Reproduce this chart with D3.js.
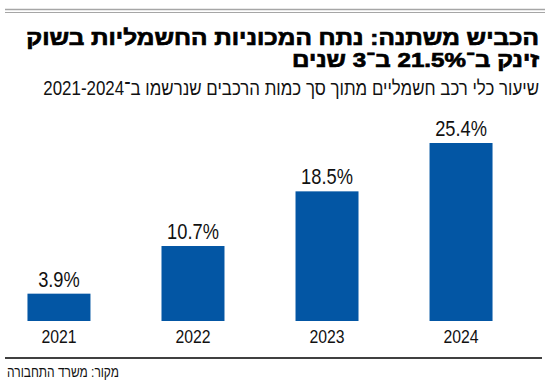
<!DOCTYPE html>
<html lang="he">
<head>
<meta charset="utf-8">
<script src="https://cdn.jsdelivr.net/npm/d3@7"></script>
<style>
  body { margin: 0; background: #fff; }
  svg { display: block; }
  .hebrew { font-family: "Liberation Sans", "DejaVu Sans", sans-serif; }
  .narrow { font-family: "Liberation Sans", "DejaVu Sans", sans-serif; }
</style>
</head>
<body>
<div id="chart"></div>
<script>
// datos
const years = ["2021", "2022", "2023", "2024"]
const shares = [3.9, 10.7, 18.5, 25.4]
const titleLines = ["הכביש משתנה: נתח המכוניות החשמליות בשוק", "זינק ב־21.5% ב־3 שנים"]
const subtitle = "שיעור כלי רכב חשמליים מתוך סך כמות הרכבים שנרשמו ב־2021-2024"
const source = "מקור: משרד התחבורה"

const width = 550
const height = 391
const barColor = "#0356a4"

const svg = d3.select("#chart").append("svg").attr("width", width).attr("height", height)

// texto hebreo: anclado a la derecha en (xr, yb), escalado en x hasta el ancho w
function hebText(parent, str, xr, yb, w, size, weight) {
    const t = parent.append("text").attr("class", "hebrew")
        .attr("direction", "rtl")
        .attr("x", 0).attr("y", 0)
        .attr("font-size", size)
        .attr("font-weight", weight || "normal")
        .attr("fill", "#111")
        .text(str)
    const len = t.node().getComputedTextLength()
    t.attr("transform", `translate(${xr}, ${yb}) scale(${w / len}, 1)`)
    return t
}
// estrecha el texto (fuente narrow no hay)
function condense(sel, k) {
    sel.each(function () {
        const len = this.getComputedTextLength()
        d3.select(this).attr("textLength", len * k).attr("lengthAdjust", "spacingAndGlyphs")
    })
}

// lineas de arriba
svg.append("line").attr("x1", 5).attr("x2", 545).attr("y1", 9.5).attr("y2", 9.5)
    .attr("stroke", "#a6a6a6").attr("stroke-width", 1.5)
svg.append("line").attr("x1", 5).attr("x2", 545).attr("y1", 12.5).attr("y2", 12.5)
    .attr("stroke", "#a6a6a6").attr("stroke-width", 1.2)

// titulo
const titleWidths = [513, 247]
titleLines.forEach((d, i) => {
    hebText(svg, d, 539, 45 + i * 21.7, titleWidths[i], 21, "bold")
        .attr("fill", "#000")
        .attr("stroke", "#000")
        .attr("stroke-width", 0.7)
})

hebText(svg, subtitle, 539, 95, 496, 19.5)

// escalas
const x = d3.scaleBand().domain(years).range([0, 520]).paddingInner(0.53).paddingOuter(0.205)
const y = d3.scaleLinear().domain([0, 25.4]).range([321, 143])

const g = svg.append("g")

g.selectAll("rect").data(shares).enter().append("rect")
    .attr("x", (d, i) => x(years[i]))
    .attr("y", d => y(d))
    .attr("width", x.bandwidth())
    .attr("height", d => y(0) - y(d))
    .attr("fill", barColor)

g.selectAll(".val").data(shares).enter().append("text")
    .attr("class", "val narrow")
    .attr("x", (d, i) => x(years[i]) + x.bandwidth() / 2)
    .attr("y", d => y(d) - 7)
    .attr("text-anchor", "middle")
    .attr("font-size", 22)
    .attr("fill", "#111")
    .text(d => d.toFixed(1) + "%")
    .call(condense, 0.83)

// eje x
const xAxis = d3.axisBottom(x).tickSize(0).tickPadding(9)
const xAxisGroup = svg.append("g").attr("transform", `translate(0, ${y(0)})`).call(xAxis)
xAxisGroup.attr("font-family", null)
xAxisGroup.select(".domain").remove()
xAxisGroup.selectAll("text")
    .attr("class", "narrow")
    .attr("font-size", 19)
    .attr("fill", "#111")
    .call(condense, 0.83)

// fuente
svg.append("line").attr("x1", 5).attr("x2", 542).attr("y1", 358).attr("y2", 358)
    .attr("stroke", "#000").attr("stroke-width", 1.5)
hebText(svg, source, 119, 377, 112, 15)
</script>
</body>
</html>
